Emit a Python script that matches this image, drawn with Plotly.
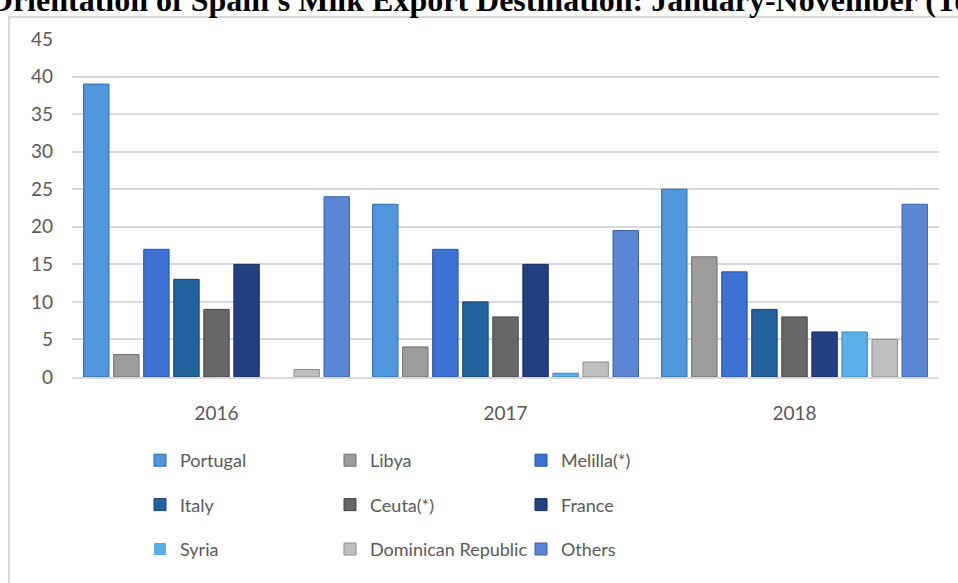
import plotly.graph_objects as go

years = ["2016", "2017", "2018"]
countries = ["Portugal", "Libya", "Melilla(*)", "Italy", "Ceuta(*)", "France",
             "Syria", "Dominican Republic", "Others"]
portugal = [39, 23, 25]
libya = [3, 4, 16]
melilla = [17, 17, 14]
italy = [13, 10, 9]
ceuta = [9, 8, 8]
france = [15, 15, 6]
syria = [0, 0.5, 6]
dominican = [1, 2, 5]
others = [24, 19.5, 23]
y_ticks = [0, 5, 10, 15, 20, 25, 30, 35, 40, 45]

series = [portugal, libya, melilla, italy, ceuta, france, syria, dominican, others]
colors = ["#4f96dc", "#9c9c9c", "#3d72d3", "#22629e", "#676767", "#213f82",
          "#5bb0ea", "#bfbfbf", "#5b86d6"]
lines = ["#2d6aa8", "#6e6e6e", "#27519e", "#163f6a", "#444444", "#142a5a",
         "#3b86bd", "#8c8c8c", "#3a5fa5"]
legend_ids = ["legend", "legend2", "legend3"] * 3

fig = go.Figure()
for name, vals, c, lc, lg in zip(countries, series, colors, lines, legend_ids):
    fig.add_trace(go.Bar(
        x=years, y=vals, name=name, legend=lg, legendgroup=name,
        marker=dict(color=c, line=dict(color=lc, width=[0 if v == 0 else 1 for v in vals])),
    ))

W, H = 958, 583
L, R, T, B = 72, 19, 39, 206
pw, ph = W - L - R, H - T - B

def px(xp):
    return (xp - L) / pw

def py(yp):
    return 1 - (yp - T) / ph

legend_font = dict(family="Lato", size=18, color="#595959")
leg_common = dict(orientation="v", font=legend_font, bgcolor="rgba(0,0,0,0)",
                  tracegroupgap=18, yanchor="top", xanchor="left", y=py(442),
                  itemwidth=30)

fig.update_layout(
    width=W, height=H,
    margin=dict(l=L, r=R, t=T, b=B),
    paper_bgcolor="white", plot_bgcolor="white",
    barmode="group", bargap=0.064, bargroupgap=0.155,
    showlegend=True,
    legend=dict(x=px(140), **leg_common),
    legend2=dict(x=px(330), **leg_common),
    legend3=dict(x=px(521), **leg_common),
    xaxis=dict(showgrid=False, showline=True, linecolor="#d9d9d9", linewidth=2,
               tickfont=dict(family="Lato", size=19, color="#595959"),
               ticks="", ticklabelstandoff=18, fixedrange=True),
    yaxis=dict(range=[0, 45], tickvals=y_ticks, showgrid=True,
               gridcolor="#d9d9d9", gridwidth=2, zeroline=False, showline=False,
               tickfont=dict(family="Lato", size=19, color="#595959"),
               ticks="", ticklabelstandoff=18, fixedrange=True),
    shapes=[dict(type="rect", xref="paper", yref="paper",
                 x0=px(9), x1=px(990), y0=py(620), y1=py(17),
                 line=dict(color="#d9d9d9", width=2), fillcolor="rgba(0,0,0,0)",
                 layer="below")],
    annotations=[dict(
        text="<b>Orientation of Spain's Milk Export Destination: January-November (Tonnes)</b>",
        xref="paper", yref="paper", x=px(-14), y=py(12), xanchor="left", yanchor="bottom",
        showarrow=False, yshift=-8,
        font=dict(family="Liberation Serif", size=32, color="black"))],
)

fig.write_html("out.html")
